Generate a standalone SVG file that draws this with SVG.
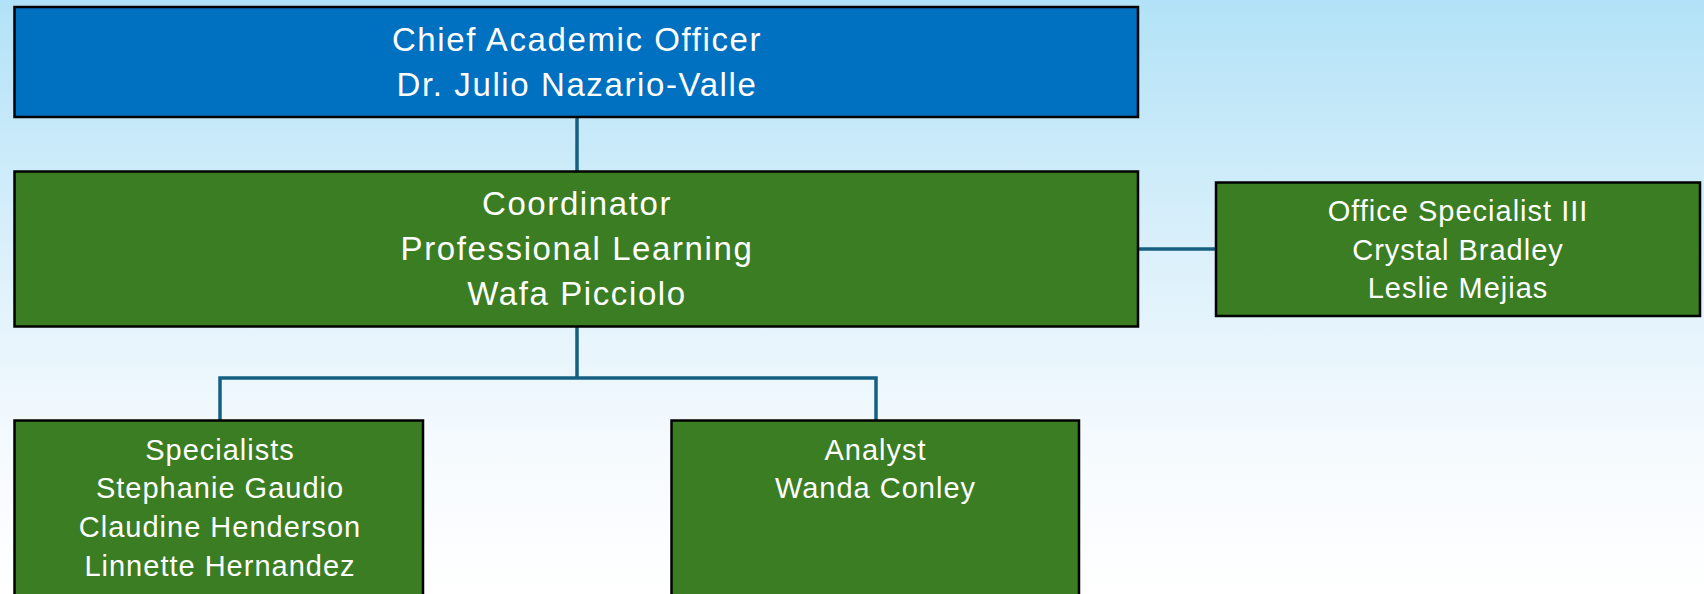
<svg xmlns="http://www.w3.org/2000/svg" width="1704" height="594" viewBox="0 0 1704 594">
  <defs>
    <linearGradient id="bg" x1="0" y1="0" x2="0" y2="1">
      <stop offset="0" stop-color="#B2E2F7"/>
      <stop offset="0.45" stop-color="#DDF1FB"/>
      <stop offset="0.75" stop-color="#F5FAFE"/>
      <stop offset="1" stop-color="#FFFFFF"/>
    </linearGradient>
    <style>
      .box { stroke: #000000; stroke-width: 2.5; }
      .blue { fill: #0070C0; }
      .green { fill: #3B7D23; }
      .conn { fill: none; stroke: #156082; stroke-width: 3.5; }
      .big { font-family: "Liberation Sans", Arial, sans-serif; font-size: 33px; letter-spacing: 1.6px; fill: #FFFFFF; text-anchor: middle; }
      .small { font-family: "Liberation Sans", Arial, sans-serif; font-size: 29px; letter-spacing: 1px; fill: #FFFFFF; text-anchor: middle; }
    </style>
  </defs>
  <rect x="0" y="0" width="1704" height="594" fill="url(#bg)"/>

  <g id="connectors">
    <path class="conn" d="M577,117 V171"/>
    <path class="conn" d="M1138,249 H1216"/>
    <path class="conn" d="M577,326 V378 M220,420 V378 H876 V420"/>
  </g>

  <g id="cao">
    <rect class="box blue" x="14.5" y="7" width="1123.5" height="110"/>
    <text class="big" x="577" y="51">Chief Academic Officer</text>
    <text class="big" x="577" y="96">Dr. Julio Nazario-Valle</text>
  </g>

  <g id="coordinator">
    <rect class="box green" x="14.5" y="171.5" width="1123.5" height="155"/>
    <text class="big" x="577" y="214.5">Coordinator</text>
    <text class="big" x="577" y="260">Professional Learning</text>
    <text class="big" x="577" y="305">Wafa Picciolo</text>
  </g>

  <g id="office-specialist">
    <rect class="box green" x="1216" y="182.5" width="484" height="133.5"/>
    <text class="small" x="1458" y="221">Office Specialist III</text>
    <text class="small" x="1458" y="259.5">Crystal Bradley</text>
    <text class="small" x="1458" y="297.5">Leslie Mejias</text>
  </g>

  <g id="specialists">
    <rect class="box green" x="14.5" y="420.5" width="408.5" height="190"/>
    <text class="small" x="220" y="459.5">Specialists</text>
    <text class="small" x="220" y="498.3">Stephanie Gaudio</text>
    <text class="small" x="220" y="537">Claudine Henderson</text>
    <text class="small" x="220" y="575.8">Linnette Hernandez</text>
  </g>

  <g id="analyst">
    <rect class="box green" x="671.5" y="420.5" width="407.5" height="190"/>
    <text class="small" x="875.5" y="459.5">Analyst</text>
    <text class="small" x="875.5" y="498.3">Wanda Conley</text>
  </g>
</svg>
